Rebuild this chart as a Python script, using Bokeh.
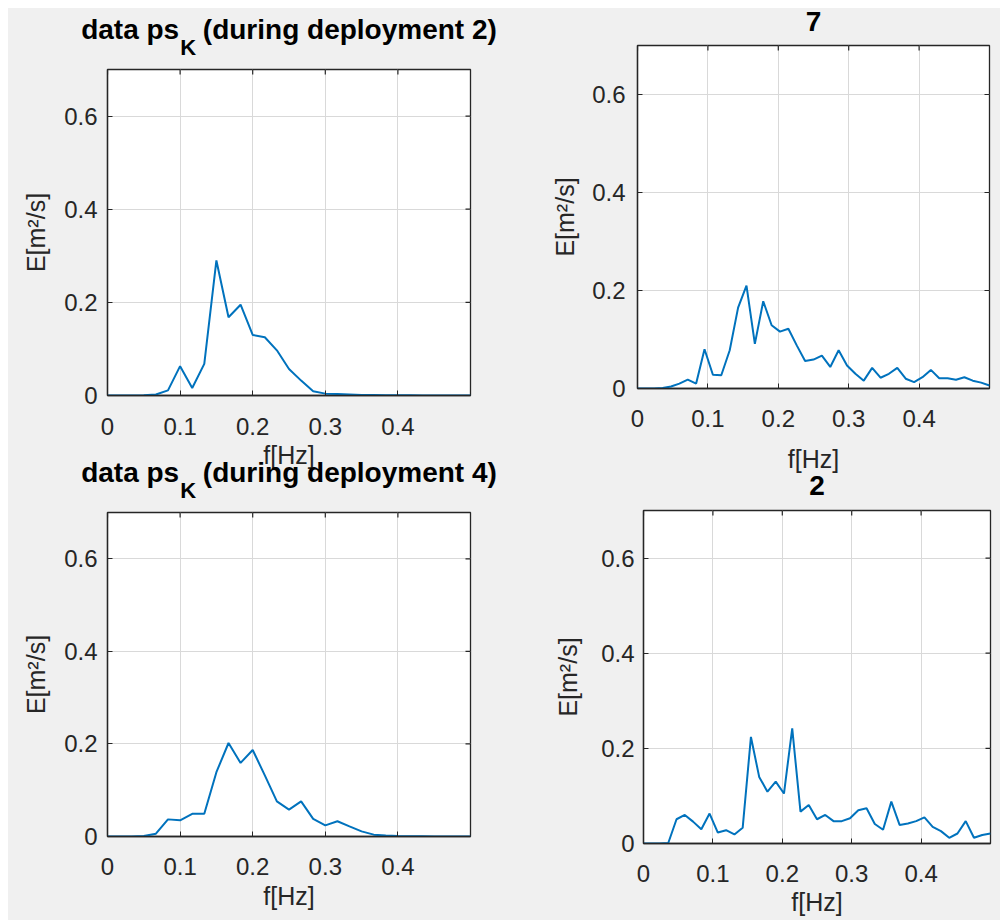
import math

from bokeh.core.properties import value
from bokeh.embed import file_html
from bokeh.layouts import column, row
from bokeh.models import FixedTicker, Range1d, Spacer
from bokeh.plotting import figure
from bokeh.resources import INLINE

# ---- data ---------------------------------------------------------------
# frequency bins of the deployment spectra (1/60 Hz spacing)
freq_dep = [0, 0.0167, 0.0333, 0.05, 0.0667, 0.0833, 0.1, 0.1167, 0.1333, 0.15,
            0.1667, 0.1833, 0.2, 0.2167, 0.2333, 0.25, 0.2667, 0.2833, 0.3, 0.3167,
            0.3333, 0.35, 0.3667, 0.3833, 0.4, 0.4167, 0.4333, 0.45, 0.4667, 0.4833, 0.5]

# frequency bins of the station spectra (1/84 Hz spacing)
freq_sta = [0, 0.0119, 0.0238, 0.0357, 0.0476, 0.0595, 0.0714, 0.0833, 0.0952, 0.1071,
            0.119, 0.131, 0.1429, 0.1548, 0.1667, 0.1786, 0.1905, 0.2024, 0.2143, 0.2262,
            0.2381, 0.25, 0.2619, 0.2738, 0.2857, 0.2976, 0.3095, 0.3214, 0.3333, 0.3452,
            0.3571, 0.369, 0.381, 0.3929, 0.4048, 0.4167, 0.4286, 0.4405, 0.4524, 0.4643,
            0.4762, 0.4881, 0.5]

# energy density E [m^2/s]
energy_dep2 = [0, 0, 0, 0.0005, 0.002, 0.011, 0.063, 0.016, 0.068, 0.290,
               0.168, 0.195, 0.130, 0.125, 0.097, 0.057, 0.032, 0.009, 0.004, 0.003,
               0.002, 0.001, 0.001, 0.0005, 0.0005, 0.0005, 0, 0, 0, 0, 0]

energy_sta7 = [0, 0, 0, 0.001, 0.004, 0.010, 0.018, 0.010, 0.080, 0.028,
               0.027, 0.078, 0.165, 0.210, 0.091, 0.178, 0.129, 0.116, 0.122, 0.088,
               0.056, 0.059, 0.067, 0.044, 0.078, 0.047, 0.030, 0.016, 0.042, 0.022,
               0.030, 0.042, 0.020, 0.013, 0.023, 0.038, 0.021, 0.021, 0.018, 0.023,
               0.016, 0.012, 0.006]

energy_dep4 = [0, 0, 0, 0.001, 0.006, 0.037, 0.035, 0.049, 0.049, 0.139,
               0.202, 0.159, 0.187, 0.132, 0.076, 0.058, 0.076, 0.038, 0.024, 0.033,
               0.022, 0.011, 0.004, 0.002, 0.001, 0.0005, 0.0005, 0, 0, 0, 0]

energy_sta2 = [0, 0, 0, 0.001, 0.051, 0.060, 0.046, 0.030, 0.063, 0.023,
               0.028, 0.019, 0.033, 0.224, 0.140, 0.109, 0.130, 0.105, 0.242, 0.067,
               0.081, 0.051, 0.060, 0.047, 0.047, 0.053, 0.070, 0.074, 0.041, 0.029,
               0.088, 0.039, 0.042, 0.047, 0.055, 0.035, 0.026, 0.012, 0.021, 0.047,
               0.012, 0.018, 0.021]

x_ticks = [0, 0.1, 0.2, 0.3, 0.4]
x_tick_labels = ["0", "0.1", "0.2", "0.3", "0.4"]
y_ticks = [0, 0.2, 0.4, 0.6]
y_tick_labels = ["0", "0.2", "0.4", "0.6"]

X_MAX = 0.5
Y_MAX = 0.7

x_label = "f[Hz]"
y_label = "E[m\u00b2/s]"

title_head = "data ps"
title_sub = "K"
title_dep2 = "(during deployment 2)"
title_dep4 = "(during deployment 4)"
title_sta7 = "7"
title_sta2 = "2"

# ---- style ----------------------------------------------------------------
FONT = "Liberation Sans"
BG = "#f0f0f0"
AXIS = "#262626"
GRID = "#d9d9d9"
LINE = "#0072bd"
TICK_PX = 24
LABEL_PX = 25
TITLE_PX = 28
SUB_PX = 22
# advance widths of Liberation Sans Bold, in em
HEAD_EM, SUB_EM, SPACE_EM = 3.501, 0.722, 0.278
TAIL_EM = 10.501
# the text glyph sits this fraction of an em below the requested baseline
BASELINE_DROP = 0.35


def spectrum_panel(freq, energy, frame, borders, tick_gaps, xlab_gap, ylab_gap,
                   show_xlabel):
    fw, fh = frame
    left, right, top, bottom = borders
    p = figure(frame_width=fw, frame_height=fh, title=None, frame_align=False,
               min_border_left=left, min_border_right=right,
               min_border_top=top, min_border_bottom=bottom,
               x_range=Range1d(0, X_MAX), y_range=Range1d(0, Y_MAX),
               output_backend="svg", toolbar_location=None,
               background_fill_color="white", border_fill_alpha=0,
               outline_line_color=AXIS, outline_line_width=1.3)

    xt = FixedTicker(ticks=x_ticks)
    yt = FixedTicker(ticks=y_ticks)
    p.xaxis.ticker = xt
    p.xgrid.ticker = xt
    p.yaxis.ticker = yt
    p.ygrid.ticker = yt
    p.xaxis.major_label_overrides = dict(zip(x_ticks, x_tick_labels))
    p.yaxis.major_label_overrides = dict(zip(y_ticks, y_tick_labels))

    for g in (p.xgrid, p.ygrid):
        g.grid_line_color = GRID
        g.grid_line_width = 1

    for ax in (p.xaxis, p.yaxis):
        ax.axis_line_color = AXIS
        ax.axis_line_width = 1.3
        ax.major_tick_line_color = AXIS
        ax.major_tick_in = 5
        ax.major_tick_out = 0
        ax.minor_tick_line_color = None
        ax.major_label_text_font = FONT
        ax.major_label_text_font_size = f"{TICK_PX}px"
        ax.major_label_text_color = AXIS
        ax.axis_label_text_font = FONT
        ax.axis_label_text_font_size = f"{LABEL_PX}px"
        ax.axis_label_text_font_style = "normal"
        ax.axis_label_text_color = AXIS

    if show_xlabel:
        p.xaxis.axis_label = x_label
        p.xaxis.axis_label_standoff = xlab_gap
    p.yaxis.axis_label = y_label
    p.yaxis.axis_label_standoff = ylab_gap
    p.xaxis.major_label_standoff = tick_gaps[0]
    p.yaxis.major_label_standoff = tick_gaps[1]

    # inward tick marks along the top and right edges of the box
    p.scatter(x_ticks, [Y_MAX] * len(x_ticks), marker="dash", angle=math.pi / 2,
              size=10, line_color=AXIS, line_width=1.2)
    p.scatter([X_MAX] * len(y_ticks), y_ticks, marker="dash",
              size=10, line_color=AXIS, line_width=1.2)

    p.line(freq, energy, line_color=LINE, line_width=2)
    return p


def text_strip(width, height, **kw):
    # a transparent canvas in pixel units that carries titles and labels
    s = figure(width=width, height=height, title=None, min_border=0,
               frame_align=False,
               x_range=Range1d(0, width), y_range=Range1d(0, height),
               x_axis_location=None, y_axis_location=None,
               output_backend="svg", toolbar_location=None,
               background_fill_alpha=0, border_fill_alpha=0,
               outline_line_color=None, **kw)
    s.grid.visible = False
    return s


def put_text(s, x, above_bottom, text, size, bold=False, align="center",
             color="black"):
    # above_bottom: height of the baseline above the strip's lower edge
    s.text(x=[x], y=[above_bottom + BASELINE_DROP * size], text=[text],
           text_font=value(FONT), text_font_size=value(f"{size}px"),
           text_font_style="bold" if bold else "normal",
           text_align=align, text_baseline="alphabetic", text_color=color)


def subscript_title(s, cx, tail):
    head_w = HEAD_EM * TITLE_PX
    sub_w = SUB_EM * SUB_PX
    space_w = SPACE_EM * TITLE_PX
    tail_w = TAIL_EM * TITLE_PX
    total = head_w + sub_w + space_w + tail_w
    x_sub = cx - total / 2 + head_w
    # the strip ends 4 px above the box; baselines 30 px and 14 px above it
    put_text(s, x_sub, 26, title_head, TITLE_PX, bold=True, align="right")
    put_text(s, x_sub + 1, 10, title_sub, SUB_PX, bold=True, align="left")
    put_text(s, x_sub + sub_w + space_w, 26, tail, TITLE_PX, bold=True,
             align="left")


# ---- left column -------------------------------------------------------
strip1 = text_strip(522, 65)
subscript_title(strip1, 99 + 363 / 2, title_dep2)

p1 = spectrum_panel(freq_dep, energy_dep2, (363, 326), (99, 60, 4, 49),
                    (22, 10), 0, 11, show_xlabel=False)

strip3 = text_strip(522, 75, styles={"margin-top": "-11px"})
put_text(strip3, 99 + 363 / 2, 45, x_label, LABEL_PX, color=AXIS)
subscript_title(strip3, 99 + 363 / 2, title_dep4)

p3 = spectrum_panel(freq_dep, energy_dep4, (363, 324), (99, 60, 4, 84),
                    (21, 10), 4, 11, show_xlabel=True)

# ---- right column ------------------------------------------------------
strip2 = text_strip(470, 41)
put_text(strip2, 107 + 352 / 2, 10, title_sta7, TITLE_PX, bold=True)

p2 = spectrum_panel(freq_sta, energy_sta7, (352, 343), (107, 11, 4, 48),
                    (21, 12), 0, 10, show_xlabel=False)

strip4 = text_strip(470, 70)
put_text(strip4, 107 + 352 / 2, 39, x_label, LABEL_PX, color=AXIS)
put_text(strip4, 113 + 347 / 2, 11, title_sta2, TITLE_PX, bold=True)

p4 = spectrum_panel(freq_sta, energy_sta2, (347, 333), (113, 10, 4, 77),
                    (21, 9), 3, 16, show_xlabel=True)

grid = row(column(strip1, p1, strip3, p3), column(strip2, p2, strip4, p4),
           styles={"background": f"linear-gradient(to bottom, #ffffff 8px, {BG} 8px)"})
layout = row(Spacer(width=8), grid)

open("out.html", "w").write(file_html(layout, INLINE))
